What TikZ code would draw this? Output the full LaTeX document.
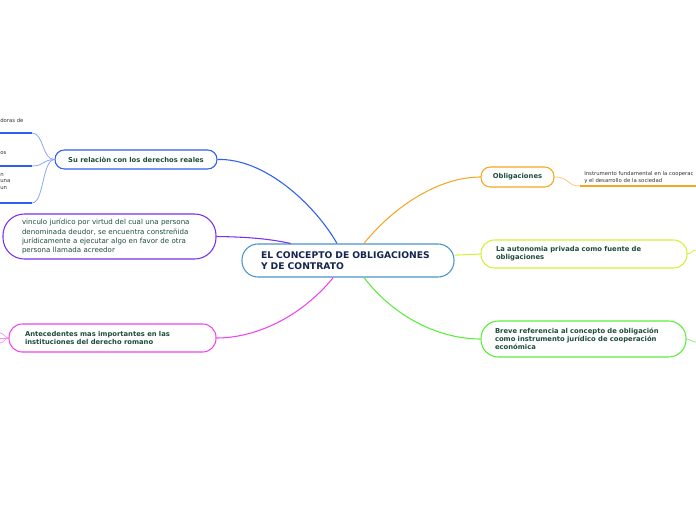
\documentclass[tikz,border=0pt]{standalone}
\usepackage{fontspec}
\setmainfont{DejaVu Sans}
\definecolor{txt}{HTML}{1E4D3C}
\definecolor{navy}{HTML}{14254F}
\definecolor{cblue}{HTML}{4A93CC}
\definecolor{sblue}{HTML}{2D5FF0}
\definecolor{lblue}{HTML}{8AA6F5}
\definecolor{cpurple}{HTML}{7A30EE}
\definecolor{cpink}{HTML}{EE44EE}
\definecolor{corange}{HTML}{F5A623}
\definecolor{cyell}{HTML}{D4F03A}
\definecolor{cgreen}{HTML}{5AEE3A}
\tikzset{
  pill/.style={draw, fill=white, line width=0.8pt, text=txt, font=\fontsize{5.1}{6}\selectfont\bfseries, align=left, inner ysep=0pt},
  conn/.style={line width=0.8pt},
  small/.style={font=\fontsize{4}{5}\selectfont, text=black!80, inner sep=0pt, align=left}
}
\begin{document}
\begin{tikzpicture}[x=0.75pt,y=-0.75pt]
\useasboundingbox (0,0) rectangle (696,520);
\clip (0,0) rectangle (696,520);
\node[pill, draw=cblue, text=navy, font=\fontsize{6.9}{8.3}\selectfont\bfseries, minimum width=159pt, minimum height=24.75pt, text width=130.5pt, inner xsep=14.25pt, rounded corners=12pt] (c) at (348,260.5) {EL CONCEPTO DE OBLIGACIONES\\Y DE CONTRATO};
\node[pill, draw=sblue, align=center, minimum width=121.5pt, minimum height=14.25pt, rounded corners=7pt] (su) at (136,159.5) {Su relaciòn con los derechos reales};
\node[pill, draw=cpurple, font=\fontsize{5.3}{6.8}\selectfont, minimum width=159.75pt, minimum height=33.75pt, text width=131.25pt, inner xsep=14.25pt, rounded corners=16pt] (vi) at (109.5,236.5) {vinculo jurídico por virtud del cual una persona\\denominada deudor, se encuentra constreñida\\jurídicamente a ejecutar algo en favor de otra\\persona llamada acreedor};
\node[pill, draw=cpink, minimum width=155.25pt, minimum height=21pt, text width=131.25pt, inner xsep=12pt, rounded corners=10pt] (an) at (112.5,338) {Antecedentes mas importantes en las\\instituciones del derecho romano};
\node[pill, draw=corange, align=center, minimum width=54.75pt, minimum height=15pt, rounded corners=7pt] (ob) at (517.5,177) {Obligaciones};
\node[pill, draw=cyell, minimum width=154.5pt, minimum height=21pt, text width=132pt, inner xsep=11.25pt, rounded corners=10pt] (au) at (584,254) {La autonomia privada como fuente de\\obligaciones};
\node[pill, draw=cgreen, minimum width=153.75pt, minimum height=27pt, text width=132.75pt, inner xsep=10.5pt, rounded corners=13pt] (br) at (583.5,339) {Breve referencia al concepto de obligación\\como instrumento jurídico de cooperación\\económica};

% main connectors
\draw[conn, sblue] (su.east) .. controls (265,158) and (315,205) .. ([xshift=-8.25pt]c.north);
\draw[conn, cpurple] (vi.east) .. controls (250,237) and (270,239) .. ([xshift=-43pt]c.north);
\draw[conn, corange] ([xshift=12pt]c.north) .. controls (395,205) and (440,177) .. (ob.west);
\draw[conn, cyell] ([yshift=4pt]c.east) -- (au.west);
\draw[conn, cgreen] ([xshift=12pt]c.south) .. controls (395,318) and (440,339) .. (br.west);
\draw[conn, cpink] ([xshift=-11pt]c.south) .. controls (300,318) and (255,338) .. (an.east);

% obligaciones child
\coordinate (ou) at (580,186);
\coordinate (oe) at (696,186);
\draw[corange!60, line width=0.6pt] (ob.east) .. controls (570,177) and (566,186) .. (ou);
\draw[corange, line width=1.3pt] (ou) -- (oe);
\node[small, anchor=south west] (ot) at (584,184) {Instrumento fundamental en la cooperac\\y el desarrollo de la sociedad};

% su relacion children
\coordinate (s1) at (32,133); \coordinate (s1e) at (0,133);
\coordinate (s2) at (32,166); \coordinate (s2e) at (0,166);
\coordinate (s3) at (32,203); \coordinate (s3e) at (0,203);
\draw[lblue, line width=0.6pt] (su.west) .. controls (42,160) and (44,133) .. (s1);
\draw[lblue, line width=0.6pt] (su.west) .. controls (42,160) and (44,166) .. (s2);
\draw[lblue, line width=0.6pt] (su.west) .. controls (42,160) and (44,203) .. (s3);
\draw[sblue, line width=1.3pt] (s1) -- (s1e);
\draw[sblue, line width=1.3pt] (s2) -- (s2e);
\draw[sblue, line width=1.3pt] (s3) -- (s3e);
\node[small, anchor=west] (t1) at (0,121) {doras de};
\node[small, anchor=west] (t2) at (0,153) {os};
\node[small, anchor=north west] (t3) at (0,173) {n\\una\\un};

% pink children
\coordinate (p1) at (0,333); \coordinate (p2) at (0,338); \coordinate (p3) at (0,343);
\draw[cpink!60, line width=0.5pt] (an.west) .. controls (5,338) and (4,333) .. (p1);
\draw[cpink!60, line width=0.5pt] (an.west) -- (p2);
\draw[cpink!60, line width=0.5pt] (an.west) .. controls (5,338) and (4,343) .. (p3);

% right edge children
\coordinate (a1) at (696,250);
\draw[cyell, line width=0.6pt] (au.east) .. controls (691,254) and (692,250) .. (a1);
\coordinate (b1) at (696,342);
\draw[cgreen!70, line width=0.6pt] (br.east) .. controls (690,339) and (692,342) .. (b1);
\end{tikzpicture}
\end{document}
